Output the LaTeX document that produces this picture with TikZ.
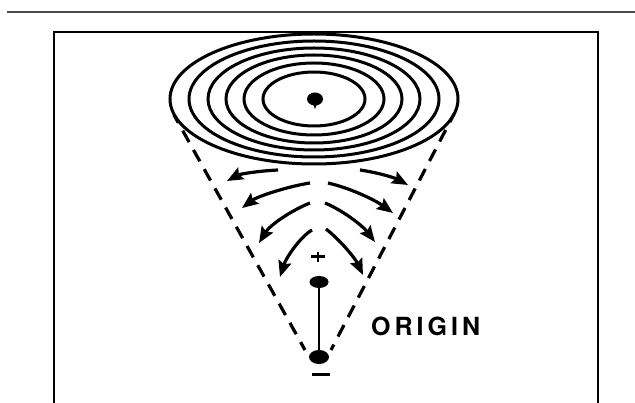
\documentclass[tikz,border=0pt]{standalone}
\usepackage{fontspec}
\setsansfont{TeX Gyre Heros}
\usetikzlibrary{arrows.meta}

\begin{document}
\begin{tikzpicture}[x=1pt,y=-1pt,
  ring/.style={line width=3pt},
  cone/.style={line width=3.2pt,dash pattern=on 13pt off 9pt,dash phase=4pt},
  flow/.style={line width=3.2pt,-{Stealth[length=16pt,width=13pt,inset=2.5pt]}},
  sign/.style={line width=3pt}]
  \useasboundingbox (0,0) rectangle (635,403);
  % rule and frame (open at the bottom)
  \draw[black!70,line width=2.2pt] (7,12) -- (635,12);
  \draw[line width=2pt] (54,403) -- (54,32) -- (598,32) -- (598,403);
  % equipotential rings
  \foreach \a/\b in {51/27,70/36,88/44,106/51,125/58,144/65}
    \draw[ring] (314,99) ellipse [x radius=\a, y radius=\b];
  \fill (315,99) ellipse [x radius=8, y radius=6.5];
  \fill (313,104) -- (317,104) -- (315,109) -- cycle;
  % sides of the cone
  \coordinate (lt) at (174,115);
  \coordinate (rt) at (454,114);
  \coordinate (lb) at (305,350);
  \coordinate (rb) at (331,350);
  \draw[cone] (lt) -- (lb);
  \draw[cone] (rt) -- (rb);
  % field lines
  \draw[flow] (278,170) .. controls (258,171) and (240,174) .. (227,181);
  \draw[flow] (310,183) .. controls (290,186) and (258,196) .. (242,208);
  \draw[flow] (310,203) .. controls (292,210) and (270,225) .. (259,243);
  \draw[flow] (312,230) .. controls (300,237) and (286,258) .. (280,277);
  \draw[flow] (360,170) .. controls (380,173) and (395,178) .. (408,185);
  \draw[flow] (328,183) .. controls (350,188) and (375,200) .. (393,213);
  \draw[flow] (325,203) .. controls (342,210) and (362,225) .. (375,242);
  \draw[flow] (326,229) .. controls (340,240) and (355,258) .. (363,275);
  % dipole
  \fill (319,282) ellipse [x radius=9.5, y radius=6];
  \fill (319,357) ellipse [x radius=10, y radius=7];
  \draw[line width=2.8pt] (319,284) -- (319,355);
  \draw[sign] (311,257) -- (325,257);
  \draw[line width=2.2pt] (318,252) -- (318,262);
  \draw[sign] (312,375) -- (330,375);
  \node[anchor=west,inner sep=0pt,font=\sffamily\bfseries\fontsize{25}{25}\selectfont\addfontfeature{LetterSpace=16}] (lbl) at (371,326) {ORIGIN};
\end{tikzpicture}
\end{document}
